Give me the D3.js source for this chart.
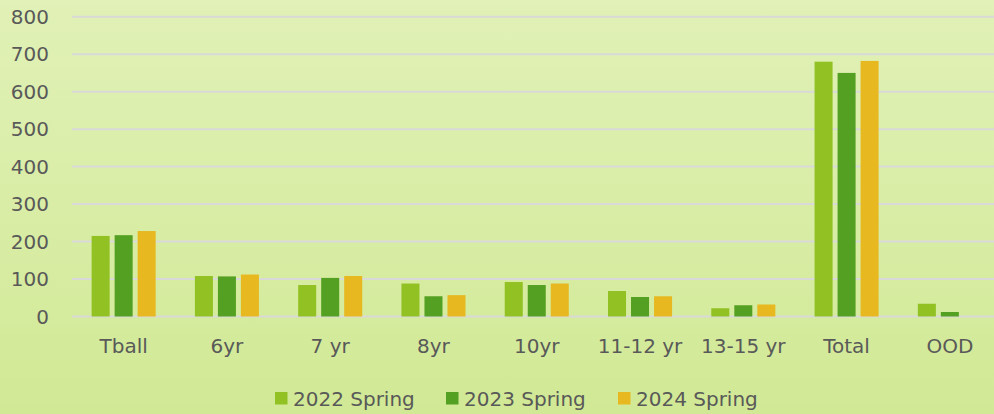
<!DOCTYPE html>
<meta charset="utf-8">
<style>
  body { margin: 0; }
  svg text { font-family: "DejaVu Sans", Verdana, sans-serif; fill: #595959; }
  .grid line { stroke: #d9d9d9; stroke-width: 2px; }
</style>
<body>
<div id="chart"></div>
<script src="https://d3js.org/d3.v7.js"></script>
<script>
  const categories = ["Tball", "6yr", "7 yr", "8yr", "10yr", "11-12 yr", "13-15 yr", "Total", "OOD"];
  const seriesNames = ["2022 Spring", "2023 Spring", "2024 Spring"];
  const spring2022 = [215, 108, 84, 88, 92, 68, 22, 680, 34];
  const spring2023 = [217, 107, 103, 54, 84, 52, 30, 650, 12];
  const spring2024 = [228, 112, 108, 57, 88, 54, 32, 682, 0];
  const yTicks = [0, 100, 200, 300, 400, 500, 600, 700, 800];

  const width = 994;
  const height = 414;
  const colors = ["#92c124", "#54a022", "#e7b820"];

  const seriesValues = [spring2022, spring2023, spring2024];
  const rows = categories.map((c, i) => ({
    cat: c,
    vals: seriesNames.map((s, j) => ({ series: s, idx: j, value: seriesValues[j][i] }))
  }));

  const svg = d3.select("#chart").append("svg")
    .attr("width", width)
    .attr("height", height);

  // background gradient
  const grad = svg.append("defs").append("linearGradient")
    .attr("id", "bg").attr("x1", 0).attr("y1", 0).attr("x2", 0).attr("y2", 1);
  grad.append("stop").attr("offset", "0%").attr("stop-color", "#e1f1b7");
  grad.append("stop").attr("offset", "100%").attr("stop-color", "#d1e995");
  svg.append("rect").attr("width", width).attr("height", height).attr("fill", "url(#bg)");

  const y = d3.scaleLinear().domain([0, 800]).range([316.5, 16.7]);
  const x0 = d3.scaleBand().domain(categories).range([72, 1001.5])
    .paddingInner(0.38).paddingOuter(0.19);
  const x1 = d3.scaleBand().domain(seriesNames).range([0, x0.bandwidth()])
    .paddingInner(5 / 23).paddingOuter(0);

  // gridlines
  svg.append("g").attr("class", "grid")
    .selectAll("line").data(yTicks).join("line")
    .attr("x1", 72).attr("x2", width)
    .attr("y1", d => y(d)).attr("y2", d => y(d));

  // y labels
  svg.append("g").selectAll("text").data(yTicks).join("text")
    .attr("x", 49).attr("y", d => y(d))
    .attr("dy", "0.36em")
    .attr("text-anchor", "end")
    .style("font-size", "20px")
    .text(d => d);

  // bars
  const groups = svg.append("g").selectAll("g").data(rows).join("g")
    .attr("transform", d => `translate(${x0(d.cat)},0)`);
  groups.selectAll("rect").data(d => d.vals.filter(v => v.value > 0)).join("rect")
    .attr("x", d => x1(d.series))
    .attr("width", x1.bandwidth())
    .attr("y", d => y(d.value))
    .attr("height", d => y(0) - y(d.value))
    .attr("fill", d => colors[d.idx]);

  // category labels
  svg.append("g").selectAll("text").data(categories).join("text")
    .attr("x", d => x0(d) + x0.bandwidth() / 2)
    .attr("y", 353)
    .attr("text-anchor", "middle")
    .style("font-size", "20px")
    .text(d => d);

  // legend
  const legendX = [275, 446, 618];
  const legend = svg.append("g").selectAll("g").data(seriesNames).join("g")
    .attr("transform", (d, i) => `translate(${legendX[i]},392)`);
  legend.append("rect").attr("width", 12.5).attr("height", 12.5)
    .attr("fill", (d, i) => colors[i]);
  legend.append("text").attr("x", 18).attr("y", 13.5)
    .style("font-size", "20px")
    .text(d => d);
</script>
</body>
</html>
